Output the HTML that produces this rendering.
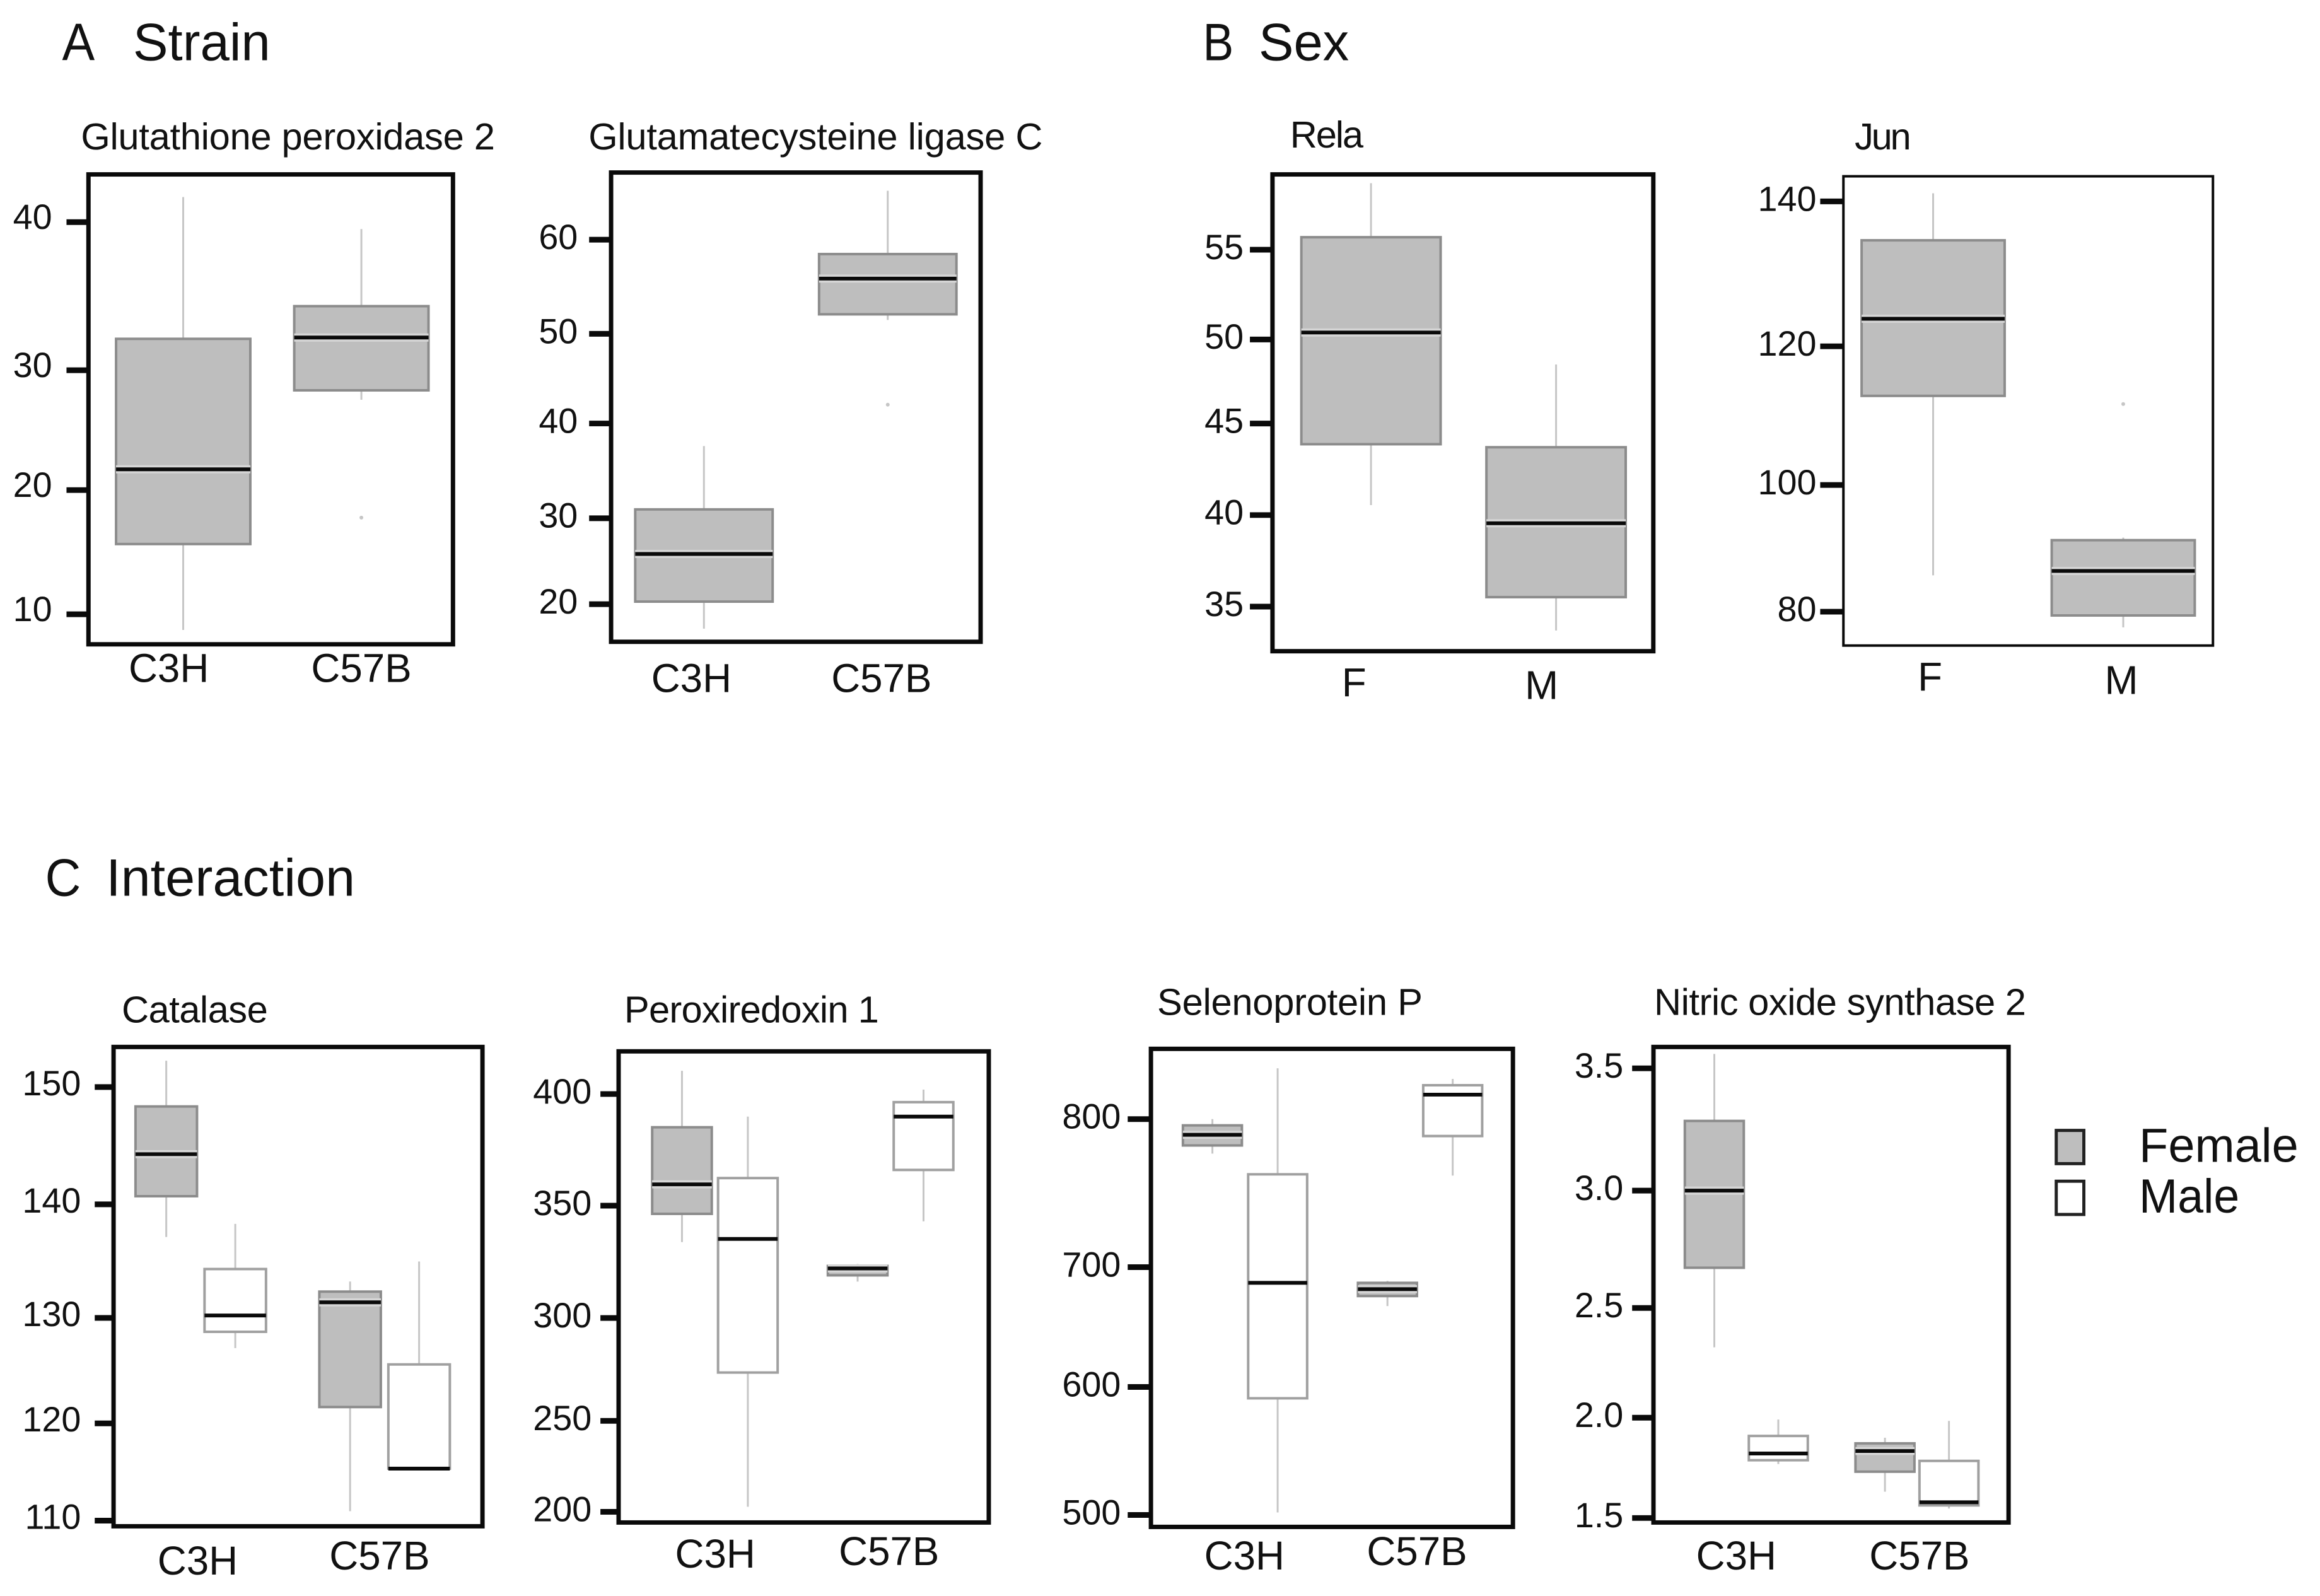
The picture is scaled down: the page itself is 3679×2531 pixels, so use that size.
<!DOCTYPE html>
<html lang="en">
<head>
<meta charset="utf-8">
<title>Boxplots by strain, sex and interaction</title>
<style>
html,body{margin:0;padding:0;background:#fff;}
svg{display:block;}
text{font-family:"Liberation Sans",Arial,sans-serif;fill:#111;}
</style>
</head>
<body>
<svg id="figure" xmlns="http://www.w3.org/2000/svg" width="3679" height="2531" viewBox="0 0 3679 2531">
  <rect x="0" y="0" width="3679" height="2531" fill="#fff"/>

  <g id="region-a" transform="scale(0.9949)">
    <text x="99" y="96" font-size="84" textLength="52" lengthAdjust="spacingAndGlyphs">A</text>
    <text x="212" y="96" font-size="84" textLength="219" lengthAdjust="spacingAndGlyphs">Strain</text>
    <text x="129" y="238" font-size="60" textLength="660" lengthAdjust="spacing">Glutathione peroxidase 2</text>
    <text x="938" y="238" font-size="60" textLength="724" lengthAdjust="spacing">Glutamatecysteine ligase C</text>
  </g>

  <g id="region-b" transform="translate(1800 0) scale(0.9949) translate(-1800 0)">
    <text x="1908" y="96" font-size="84" textLength="49" lengthAdjust="spacingAndGlyphs">B</text>
    <text x="1997" y="96" font-size="84" textLength="144" lengthAdjust="spacingAndGlyphs">Sex</text>
    <text x="2047" y="235" font-size="60" textLength="117" lengthAdjust="spacing">Rela</text>
    <text x="2947" y="238" font-size="60" textLength="90" lengthAdjust="spacing">Jun</text>
  </g>

  <g id="region-c" transform="translate(0 1330) scale(0.9949) translate(0 -1330)">
    <text x="72" y="1421" font-size="84" textLength="57" lengthAdjust="spacingAndGlyphs">C</text>
    <text x="169" y="1421" font-size="84" textLength="397" lengthAdjust="spacingAndGlyphs">Interaction</text>
    <text x="194" y="1623" font-size="60" textLength="233" lengthAdjust="spacing">Catalase</text>
    <text x="995" y="1623" font-size="60" textLength="406" lengthAdjust="spacing">Peroxiredoxin 1</text>
  </g>

  <g id="region-d" transform="translate(1650 1330) scale(0.9949) translate(-1650 -1330)">
    <text x="1836" y="1611" font-size="60" textLength="423" lengthAdjust="spacing">Selenoprotein P</text>
    <text x="2628" y="1611" font-size="60" textLength="593" lengthAdjust="spacing">Nitric oxide synthase 2</text>
    <g>
      <rect x="3269" y="1795" width="44" height="53" fill="#bebebe" stroke="#222" stroke-width="5"/>
      <text x="3401" y="1845" font-size="76" textLength="254" lengthAdjust="spacingAndGlyphs">Female</text>
      <rect x="3269" y="1876" width="44" height="53" fill="#fff" stroke="#222" stroke-width="5"/>
      <text x="3401" y="1926" font-size="76" textLength="160" lengthAdjust="spacingAndGlyphs">Male</text>
    </g>
  </g>
</svg>
<script>
// Glutathione peroxidase 2
const gpx2Categories = ['C3H', 'C57B'];
const gpx2Low = [8.80, 26.41];
const gpx2Q1 = [15.37, 27.13];
const gpx2Median = [21.09, 31.17];
const gpx2Q3 = [31.07, 33.57];
const gpx2High = [41.92, 39.47];
const gpx2Outliers = [null, 17.39];
const gpx2Domain = [7.70, 43.65];
const gpx2Ticks = [40, 28.67, 19.50, 10];
const gpx2TickLabels = ['40', '30', '20', '10'];

// Glutamatecysteine ligase C
const gclcCategories = ['C3H', 'C57B'];
const gclcLow = [17.31, 51.19];
const gclcQ1 = [20.28, 51.81];
const gclcMedian = [25.51, 55.73];
const gclcQ3 = [30.40, 58.42];
const gclcHigh = [37.35, 65.37];
const gclcOutliers = [null, 41.89];
const gclcDomain = [15.87, 67.37];
const gclcTicks = [60, 49.67, 39.83, 29.43, 20];
const gclcTickLabels = ['60', '50', '40', '30', '20'];

// Rela
const relaCategories = ['F', 'M'];
const relaLow = [40.69, 33.66];
const relaQ1 = [44.10, 35.53];
const relaMedian = [50.36, 39.67];
const relaQ3 = [55.70, 43.93];
const relaHigh = [58.73, 48.57];
const relaOutliers = [null, null];
const relaDomain = [32.50, 59.22];
const relaTicks = [55, 49.97, 45.26, 40.13, 35];
const relaTickLabels = ['55', '50', '45', '40', '35'];

// Jun
const junCategories = ['F', 'M'];
const junLow = [85.32, 77.71];
const junQ1 = [111.56, 79.45];
const junMedian = [122.84, 85.96];
const junQ3 = [134.31, 90.46];
const junHigh = [141.19, 90.83];
const junOutliers = [null, 110.37];
const junDomain = [75.05, 143.67];
const junTicks = [140, 118.81, 98.53, 80];
const junTickLabels = ['140', '120', '100', '80'];

// Interaction panels: each array is ordered female C3H, male C3H, female C57B, male C57B
const sexSeries = ['female', 'male'];

// Catalase
const catCategories = ['C3H', 'C57B'];
const catLow = [136.17, 125.92, 110.87, 114.80];
const catQ1 = [139.93, 127.42, 120.48, 114.80];
const catMedian = [143.81, 128.93, 130.14, 114.80];
const catQ3 = [148.21, 133.21, 131.13, 124.41];
const catHigh = [152.43, 137.38, 132.06, 133.91];
const catDomain = [109.48, 153.70];
const catTicks = [150, 139.18, 128.70, 118.97, 110];
const catTickLabels = ['150', '140', '130', '120', '110'];

// Peroxiredoxin 1
const prdxCategories = ['C3H', 'C57B'];
const prdxLow = [329.13, 202.40, 310.21, 339.04];
const prdxQ1 = [342.64, 266.67, 313.21, 363.66];
const prdxMedian = [356.76, 330.63, 316.52, 389.19];
const prdxQ3 = [384.08, 359.76, 317.72, 396.10];
const prdxHigh = [411.11, 389.19, 318.62, 402.10];
const prdxDomain = [194.89, 420.42];
const prdxTicks = [400, 346.55, 292.79, 243.54, 200];
const prdxTickLabels = ['400', '350', '300', '250', '200'];

// Selenoprotein P
const selpCategories = ['C3H', 'C57B'];
const selpLow = [773.85, 501.90, 658.32, 757.21];
const selpQ1 = [780.03, 588.43, 665.92, 787.16];
const selpMedian = [788.11, 675.91, 671.15, 818.54];
const selpQ3 = [795.25, 758.16, 675.91, 825.67];
const selpHigh = [800, 838.51, 677.34, 830.43];
const selpDomain = [490.96, 853.25];
const selpTicks = [800, 687.80, 596.99, 500];
const selpTickLabels = ['800', '700', '600', '500'];

// Nitric oxide synthase 2
const nos2Categories = ['C3H', 'C57B'];
const nos2Low = [2.259, 1.740, 1.617, 1.542];
const nos2Q1 = [2.613, 1.757, 1.706, 1.556];
const nos2Median = [2.956, 1.787, 1.798, 1.570];
const nos2Q3 = [3.266, 1.865, 1.832, 1.754];
const nos2High = [3.564, 1.938, 1.857, 1.932];
const nos2Domain = [1.480, 3.595];
const nos2Ticks = [3.5, 2.956, 2.434, 1.946, 1.5];
const nos2TickLabels = ['3.5', '3.0', '2.5', '2.0', '1.5'];

const NS = 'http://www.w3.org/2000/svg';

function make(tag, attrs, parent) {
  const el = document.createElementNS(NS, tag);
  for (const k in attrs) el.setAttribute(k, attrs[k]);
  parent.appendChild(el);
  return el;
}

function drawPanel(name, regionId, d, f) {
  const g = make('g', {}, document.getElementById(regionId));
  
  

  const yScale = v => f.top + (d.domain[1] - v) / (d.domain[1] - d.domain[0]) * (f.bottom - f.top);
  const perGroup = d.perGroup;
  const xScale = i => f.x0 + Math.floor(i / perGroup) * f.step + (i % perGroup) * f.dodge;

  d.low.forEach((_, i) => {
    const cx = xScale(i);
    const isMale = perGroup === 2 && d.series[i % 2] === 'male';
    const box = make('g', {}, g);
    
    

    const whiskerHigh = make('line', {x1: cx, x2: cx, y1: yScale(d.high[i]), y2: yScale(d.q3[i]), stroke: '#c6c6c6', 'stroke-width': 3}, box);
    
    

    const whiskerLow = make('line', {x1: cx, x2: cx, y1: yScale(d.q1[i]), y2: yScale(d.low[i]), stroke: '#c6c6c6', 'stroke-width': 3}, box);
    
    

    const rect = make('rect', {
      x: cx - f.boxW / 2,
      y: yScale(d.q3[i]),
      width: f.boxW,
      height: yScale(d.q1[i]) - yScale(d.q3[i]),
      fill: isMale ? '#fff' : '#bebebe',
      stroke: isMale ? '#a0a0a0' : '#8c8c8c',
      'stroke-width': 4
    }, box);
    
    

    if (!isMale) {
      const halo = make('line', {x1: cx - f.boxW / 2, x2: cx + f.boxW / 2, y1: yScale(d.median[i]), y2: yScale(d.median[i]), stroke: '#d6d6d6', 'stroke-width': 13}, box);
      
      
    }

    const med = make('line', {x1: cx - f.boxW / 2, x2: cx + f.boxW / 2, y1: yScale(d.median[i]), y2: yScale(d.median[i]), stroke: '#0a0a0a', 'stroke-width': 6}, box);
    
    

    if (d.outliers && d.outliers[i] !== null) {
      const dot = make('circle', {cx: cx, cy: yScale(d.outliers[i]), r: 3, fill: '#c6c6c6'}, box);
      
      
    }
  });

  const frame = make('rect', {x: f.left, y: f.top, width: f.right - f.left, height: f.bottom - f.top, fill: 'none', stroke: '#0a0a0a', 'stroke-width': f.frameW}, g);
  
  

  d.ticks.forEach((t, i) => {
    const tick = make('line', {x1: f.tickLeft, x2: f.left, y1: yScale(t), y2: yScale(t), stroke: '#0a0a0a', 'stroke-width': 9}, g);
    
    

    const lab = make('text', {x: f.labelRight, y: yScale(t) + f.labelDy, 'font-size': 56, 'text-anchor': 'end'}, g);
    lab.textContent = d.tickLabels[i];
    
    
  });

  d.categories.forEach((c, i) => {
    const lab = make('text', {x: f.catX[i], y: f.catY[i], 'font-size': 64, 'text-anchor': 'middle'}, g);
    lab.textContent = c;
    
    
  });
}

drawPanel('glutathione-peroxidase-2', 'region-a',
  {categories: gpx2Categories, low: gpx2Low, q1: gpx2Q1, median: gpx2Median, q3: gpx2Q3, high: gpx2High, outliers: gpx2Outliers, domain: gpx2Domain, ticks: gpx2Ticks, tickLabels: gpx2TickLabels, perGroup: 1},
  {left: 141, right: 722, top: 278, bottom: 1027, frameW: 7, x0: 292, step: 284, dodge: 0, boxW: 214, tickLeft: 106, labelRight: 83, labelDy: 11, catX: [269, 576], catY: [1087, 1087]});

drawPanel('glutamatecysteine-ligase-c', 'region-a',
  {categories: gclcCategories, low: gclcLow, q1: gclcQ1, median: gclcMedian, q3: gclcQ3, high: gclcHigh, outliers: gclcOutliers, domain: gclcDomain, ticks: gclcTicks, tickLabels: gclcTickLabels, perGroup: 1},
  {left: 974, right: 1563, top: 275, bottom: 1023, frameW: 7, x0: 1122, step: 293, dodge: 0, boxW: 219, tickLeft: 939, labelRight: 921, labelDy: 15, catX: [1102, 1405], catY: [1103, 1103]});

drawPanel('rela', 'region-b',
  {categories: relaCategories, low: relaLow, q1: relaQ1, median: relaMedian, q3: relaQ3, high: relaHigh, outliers: relaOutliers, domain: relaDomain, ticks: relaTicks, tickLabels: relaTickLabels, perGroup: 1},
  {left: 2019, right: 2626, top: 278, bottom: 1038, frameW: 7, x0: 2176, step: 295, dodge: 0, boxW: 222, tickLeft: 1983, labelRight: 1973, labelDy: 15, catX: [2149, 2448], catY: [1110, 1114]});

drawPanel('jun', 'region-b',
  {categories: junCategories, low: junLow, q1: junQ1, median: junMedian, q3: junQ3, high: junHigh, outliers: junOutliers, domain: junDomain, ticks: junTicks, tickLabels: junTickLabels, perGroup: 1},
  {left: 2929, right: 3518, top: 281, bottom: 1029, frameW: 4, x0: 3072, step: 303, dodge: 0, boxW: 228, tickLeft: 2892, labelRight: 2886, labelDy: 15, catX: [3067, 3372], catY: [1101, 1106]});

drawPanel('catalase', 'region-c',
  {categories: catCategories, series: sexSeries, low: catLow, q1: catQ1, median: catMedian, q3: catQ3, high: catHigh, domain: catDomain, ticks: catTicks, tickLabels: catTickLabels, perGroup: 2},
  {left: 181, right: 769, top: 1662, bottom: 2426, frameW: 7, x0: 265, step: 293, dodge: 110, boxW: 98, tickLeft: 151, labelRight: 129, labelDy: 13, catX: [315, 605], catY: [2503, 2495]});

drawPanel('peroxiredoxin-1', 'region-c',
  {categories: prdxCategories, series: sexSeries, low: prdxLow, q1: prdxQ1, median: prdxMedian, q3: prdxQ3, high: prdxHigh, domain: prdxDomain, ticks: prdxTicks, tickLabels: prdxTickLabels, perGroup: 2},
  {left: 986, right: 1576, top: 1669, bottom: 2420, frameW: 7, x0: 1087, step: 280, dodge: 105, boxW: 95, tickLeft: 957, labelRight: 943, labelDy: 15, catX: [1140, 1417], catY: [2492, 2488]});

drawPanel('selenoprotein-p', 'region-d',
  {categories: selpCategories, series: sexSeries, low: selpLow, q1: selpQ1, median: selpMedian, q3: selpQ3, high: selpHigh, domain: selpDomain, ticks: selpTicks, tickLabels: selpTickLabels, perGroup: 2},
  {left: 1826, right: 2403, top: 1665, bottom: 2427, frameW: 7, x0: 1924, step: 279, dodge: 104, boxW: 94, tickLeft: 1789, labelRight: 1778, labelDy: 15, catX: [1975, 2250], catY: [2495, 2488]});

drawPanel('nitric-oxide-synthase-2', 'region-d',
  {categories: nos2Categories, series: sexSeries, low: nos2Low, q1: nos2Q1, median: nos2Median, q3: nos2Q3, high: nos2High, domain: nos2Domain, ticks: nos2Ticks, tickLabels: nos2TickLabels, perGroup: 2},
  {left: 2627, right: 3193, top: 1662, bottom: 2420, frameW: 7, x0: 2724, step: 272, dodge: 102, boxW: 94, tickLeft: 2593, labelRight: 2579, labelDy: 15, catX: [2759, 3051], catY: [2495, 2495]});
</script>
</body>
</html>
